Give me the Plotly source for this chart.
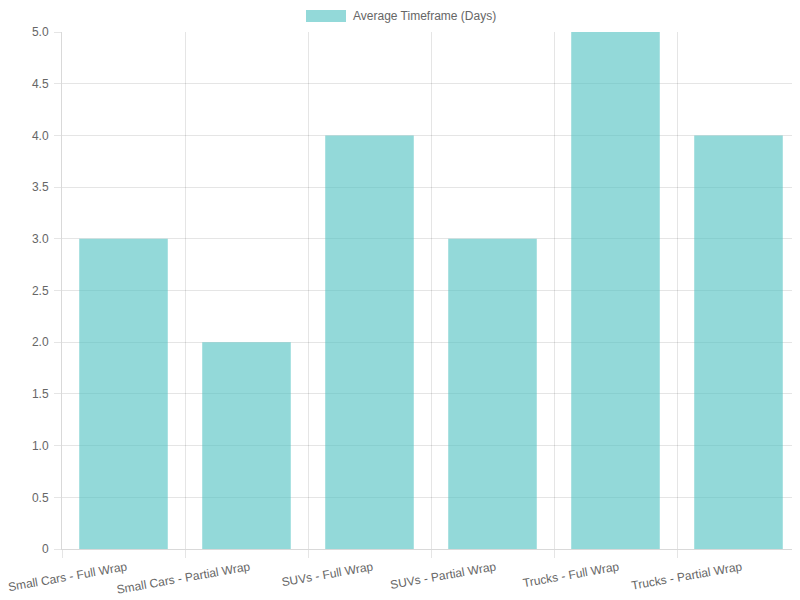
import plotly.graph_objects as go

categories = ["Small Cars - Full Wrap", "Small Cars - Partial Wrap", "SUVs - Full Wrap",
              "SUVs - Partial Wrap", "Trucks - Full Wrap", "Trucks - Partial Wrap"]
avg_days = [3, 2, 4, 3, 5, 4]
series_name = "Average Timeframe (Days)"
y_ticks = [0, 0.5, 1, 1.5, 2, 2.5, 3, 3.5, 4, 4.5, 5]
y_tick_labels = ["0", "0.5", "1.0", "1.5", "2.0", "2.5", "3.0", "3.5", "4.0", "4.5", "5.0"]

bar_color = "rgba(75,192,192,0.6)"
grid = "rgba(0,0,0,0.1)"

x_pos = list(range(len(categories)))
boundaries = [i - 0.5 for i in range(len(categories) + 1)]

fig = go.Figure([go.Bar(
    x=x_pos, y=avg_days, name=series_name,
    marker=dict(color=bar_color, line=dict(width=0)),
)])

# page body has an 8px margin, so the figure is 792x592 and offsets are shifted by 8
fig.update_layout(
    width=792, height=592,
    paper_bgcolor="white", plot_bgcolor="white",
    margin=dict(l=54, r=0, t=24, b=51, autoexpand=False),
    bargap=0.28,
    font=dict(family="Liberation Sans, Arial, sans-serif", size=12, color="#666"),
    showlegend=False,
    xaxis=dict(
        range=[-0.5, len(categories) - 0.5], automargin=False,
        tickvals=x_pos, ticktext=categories, tickangle=-10,
        ticklabeloverflow="allow", ticklabelshift=3, ticklabelstandoff=6,
        showgrid=False, ticks="",
        showline=True, linecolor="rgba(0,0,0,0.15)",
        minor=dict(tickvals=boundaries, showgrid=True, gridcolor=grid,
                   ticks="outside", ticklen=8, tickcolor=grid),
        zeroline=False,
    ),
    yaxis=dict(
        range=[0, 5], tickvals=y_ticks, ticktext=y_tick_labels, automargin=False,
        showgrid=True, gridcolor=grid,
        ticks="outside", ticklen=7, tickcolor=grid, ticklabelstandoff=3,
        showline=True, linecolor="rgba(0,0,0,0.15)", zeroline=False,
    ),
)

# chart.js-style legend: wide swatch + label, centred at the top
fig.add_shape(type="rect", xref="paper", yref="paper",
              x0=(306 - 62) / 738, x1=(346 - 62) / 738,
              y0=1 + 10 / 517, y1=1 + 22 / 517,
              fillcolor=bar_color, line=dict(width=0))
fig.add_annotation(text=series_name, xref="paper", yref="paper",
                   x=(351 - 62) / 738, y=1 + 16 / 517, xanchor="left", yanchor="middle",
                   showarrow=False, font=dict(size=12, color="#666"))

fig.write_html("out.html")
